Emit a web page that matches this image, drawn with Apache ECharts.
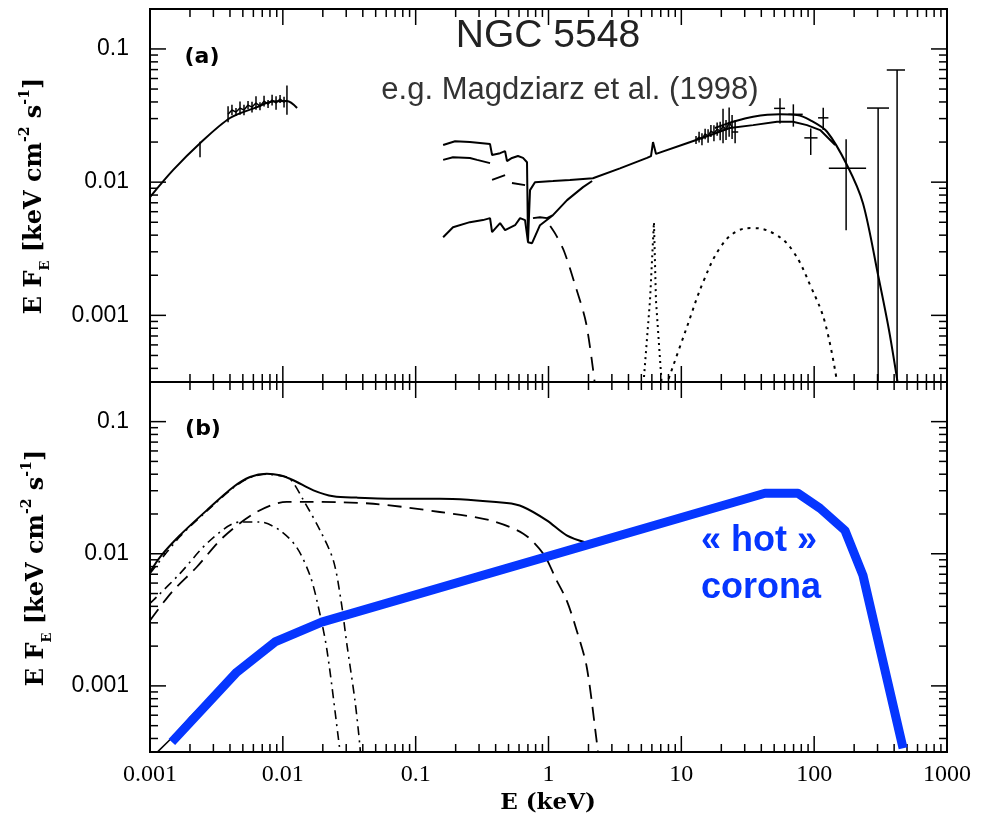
<!DOCTYPE html>
<html>
<head>
<meta charset="utf-8">
<script src="https://cdn.jsdelivr.net/npm/echarts@6.0.0/dist/echarts.min.js"></script>
<style>
  html, body { margin: 0; padding: 0; background: #fff; }
  #chart { width: 997px; height: 823px; }
</style>
</head>
<body>
<div id="chart"></div>
<script>
/* ── Axes ─────────────────────────────────────────────────────────── */
const X_MIN = 0.001, X_MAX = 1000;
const Y_MIN = 0.000316, Y_MAX = 0.1995;
const xTickVals = [0.001, 0.01, 0.1, 1, 10, 100, 1000];
const xTickLabels = ['0.001', '0.01', '0.1', '1', '10', '100', '1000'];
const yTickVals = [0.001, 0.01, 0.1];
const yTickLabels = ['0.001', '0.01', '0.1'];

/* ── Panel (a): optical/UV model + data ──────────────────────────── */
const uvModelE = [0.001, 0.00149, 0.00238, 0.0040, 0.0064, 0.0080, 0.01074, 0.0128];
const uvModelF = [0.00773, 0.0123, 0.0196, 0.0303, 0.0366, 0.0399, 0.0406, 0.036];

const uvDataE = [0.00387, 0.00414, 0.00444, 0.00476, 0.00510, 0.00547, 0.00586, 0.00628,
                 0.00673, 0.00722, 0.00774, 0.00830, 0.00889, 0.00953, 0.01021, 0.01074];
const uvDataF = [0.0324, 0.0348, 0.0336, 0.0360, 0.0348, 0.0379, 0.0366, 0.0393,
                 0.0372, 0.0406, 0.0386, 0.0413, 0.0393, 0.0421, 0.0399, 0.0413];
const uvDataErr = [0.06, 0.04, 0.03, 0.05, 0.04, 0.03, 0.04, 0.05,
                   0.03, 0.04, 0.03, 0.04, 0.05, 0.03, 0.04, 0.11];   // dex

// lone error bar near 2.4 eV
const uvBarE = [0.00238];
const uvBarLo = [0.0154];
const uvBarHi = [0.0201];

/* ── Panel (a): X-ray traces ─────────────────────────────────────── */
const upperE = [0.161, 0.198, 0.256, 0.363, 0.376, 0.432, 0.471, 0.487, 0.531, 0.589, 0.643, 0.689,
                0.701, 0.726, 0.791, 1.08, 1.45, 2.16, 3.45, 5.52, 5.91, 6.12, 6.45, 11.0,
                16.4, 23.2, 34.7, 52.5, 69.3, 88.3, 111, 144];
const upperF = [0.0190, 0.0203, 0.0200, 0.0193, 0.0160, 0.0165, 0.0171, 0.0144, 0.0152, 0.0157, 0.0152, 0.0141,
                0.00360, 0.00871, 0.0100, 0.0102, 0.0104, 0.0107, 0.0127, 0.0152, 0.0157, 0.0200, 0.0163, 0.0196,
                0.0225, 0.0255, 0.0268, 0.0284, 0.0284, 0.0268, 0.0246, 0.0190];

const midE = [0.161, 0.191, 0.256, 0.290, 0.363, null, 0.376, 0.471, null, 0.531, 0.666];
const midF = [0.0147, 0.0154, 0.0152, 0.0147, 0.0139, null, 0.0104, 0.0113, null, 0.00984, 0.00950];

const lowerE = [0.161, 0.191, 0.256, 0.321, 0.363, 0.376, 0.432, 0.471, 0.560, 0.611, 0.666, 0.701,
                0.752, 0.863, 1.08, 1.38, 1.82, 2.13, null, 0.764, 0.863, 0.975, 1.08];
const lowerF = [0.00386, 0.00459, 0.00501, 0.00519, 0.00537, 0.00422, 0.00492, 0.00436, 0.00475, 0.00537, 0.00519, 0.00354,
                0.00348, 0.00475, 0.00565, 0.00733, 0.00918, 0.0102, null, 0.00537, 0.00546, 0.00537, 0.00565];

const softE = [1.03, 1.14, 1.31, 1.58, 1.92, 2.24];
const softF = [0.00468, 0.00400, 0.00303, 0.00171, 0.000873, 0.000299];

const feLineE = [5.15, 5.81, 6.22, 6.44, 7.16];
const feLineF = [0.00028, 0.0013, 0.0050, 0.0013, 0.00028];

const reflE = [7.67, 10.8, 14.8, 19.9, 26.3, 34.7, 50.7, 69.3, 94.7, 121, 151];
const reflF = [0.000294, 0.000773, 0.00184, 0.00330, 0.00429, 0.00452, 0.00407, 0.00303, 0.00163, 0.000873, 0.000288];

const hardModelE = [17.9, 24.5, 34.7, 55.3, 74.3, 93.1, 125, 177, 233, 303, 366, 428];
const hardModelF = [0.0255, 0.0284, 0.0310, 0.0323, 0.0319, 0.0292, 0.0239, 0.0134, 0.00695, 0.00200, 0.000773, 0.000299];

const hxDataE = [12.9, 13.6, 14.3, 15.1, 15.9, 16.7, 17.6, 18.6, 19.6, 20.6, 21.7, 22.9, 24.1];
const hxDataF = [0.0207, 0.0218, 0.0210, 0.0230, 0.0222, 0.0242, 0.0233, 0.0250, 0.0242, 0.0264, 0.0246, 0.0282, 0.0259];
const hxDataErr = [0.03, 0.04, 0.045, 0.04, 0.05, 0.045, 0.06, 0.05, 0.07, 0.13, 0.075, 0.11, 0.09];   // dex

const crossE = [25.4, 55.3, 69.7, 94.2, 117, 174];
const crossELo = [24.0, 49.9, 63.9, 84.3, 107, 129];
const crossEHi = [26.8, 60.4, 82.0, 106, 128, 246];
const crossF = [0.0238, 0.0358, 0.0323, 0.0215, 0.0304, 0.0127];
const crossFLo = [0.0196, 0.0276, 0.0261, 0.0160, 0.0246, 0.00436];
const crossFHi = [0.0292, 0.0426, 0.0384, 0.0253, 0.0362, 0.0210];

const ulE = [303, 421];
const ulCapLo = [250, 352];
const ulCapHi = [366, 483];
const ulTop = [0.0360, 0.0695];

/* ── Panel (b): components ───────────────────────────────────────── */
const totalE = [0.001, 0.00119, 0.00168, 0.00267, 0.00424, 0.00566, 0.00756, 0.00953, 0.0120, 0.0170,
                0.0240, 0.0360, 0.0762, 0.152, 0.484, 0.646, 0.970, 1.37, 1.94];
const totalF = [0.00727, 0.00945, 0.0138, 0.0213, 0.0320, 0.0381, 0.0404, 0.0393, 0.0360, 0.0302,
                0.0272, 0.0266, 0.0261, 0.0261, 0.0242, 0.0226, 0.0179, 0.0138, 0.0121];

const warmE = [0.001, 0.00146, 0.00225, 0.00357, 0.00635, 0.0107, 0.0151, 0.0480, 0.152, 0.363,
               0.646, 0.914, 1.15, 1.37, 1.63, 1.94, 2.31, 2.40];
const warmF = [0.00313, 0.00513, 0.00794, 0.0134, 0.0207, 0.0247, 0.0247, 0.0239, 0.0207, 0.0179,
               0.0142, 0.0100, 0.00630, 0.00444, 0.00263, 0.00139, 0.000376, 0.000273];

const disk1E = [0.001, 0.00112, 0.00168, 0.00283, 0.00476, 0.00673, 0.00953, 0.0127, 0.0160, 0.0184, 0.0215, 0.0269, 0.0279];
const disk1F = [0.00421, 0.00470, 0.00708, 0.0126, 0.0174, 0.0174, 0.0150, 0.0112, 0.00687, 0.00407, 0.00186, 0.000325, 0.00025];

const disk2E = [0.001, 0.00168, 0.00267, 0.00424, 0.00566, 0.00756, 0.00953, 0.0113, 0.0143, 0.0191,
                0.0240, 0.0274, 0.0303, 0.0349, 0.0381, 0.0388];
const disk2F = [0.0071, 0.0135, 0.0210, 0.0316, 0.0377, 0.0400, 0.0390, 0.0371, 0.0254, 0.0150,
                0.00891, 0.00444, 0.00209, 0.000776, 0.000344, 0.00025];

const lowTailE = [0.00113, 0.00147, 0.00200, 0.00283, 0.00452, 0.00873];
const lowTailF = [0.000314, 0.000407, 0.000578, 0.000818, 0.00136, 0.00221];

const hotE = [0.00146, 0.0045, 0.00873, 0.0196, 42.6, 75.5, 110.6, 170.6, 233, 467];
const hotF = [0.000376, 0.00127, 0.00215, 0.00304, 0.0287, 0.0287, 0.0221, 0.0150, 0.00686, 0.000337];

/* ── Helpers ──────────────────────────────────────────────────────── */
const BLUE = '#0636ff';
const INK = '#000';

function zip(es, fs) {
    return es.map((e, i) => (e === null || fs[i] === null) ? ['-', '-'] : [e, fs[i]]);
}

function lineSeries(grid, es, fs, style, extra) {
    return Object.assign({
        type: 'line',
        xAxisIndex: grid, yAxisIndex: grid,
        data: zip(es, fs),
        symbol: 'none',
        connectNulls: false,
        animation: false,
        silent: true,
        lineStyle: Object.assign({ color: INK, width: 2 }, style)
    }, extra || {});
}

function seg(x1, y1, x2, y2, w) {
    return { type: 'line', shape: { x1, y1, x2, y2 }, style: { stroke: INK, lineWidth: w || 1.5 } };
}

// [E, F, Flo, Fhi, Elo, Ehi]
function renderBars(params, api) {
    const e = api.value(0);
    const lo = api.coord([e, api.value(2)]);
    const hi = api.coord([e, api.value(3)]);
    const kids = [seg(lo[0], lo[1], hi[0], hi[1])];
    const el = api.value(4), eh = api.value(5);
    if (el > 0 && eh > 0) {
        const l = api.coord([el, api.value(1)]);
        const r = api.coord([eh, api.value(1)]);
        kids.push(seg(l[0], l[1], r[0], r[1]));
    }
    return { type: 'group', children: kids };
}

// [E, top, capLo, capHi] : bar runs down past the axis
function renderLimits(params, api) {
    const e = api.value(0);
    const top = api.coord([e, api.value(1)]);
    const bot = api.coord([e, Y_MIN]);
    const l = api.coord([api.value(2), api.value(1)]);
    const r = api.coord([api.value(3), api.value(1)]);
    return { type: 'group', children: [seg(top[0], top[1], bot[0], bot[1] + 20), seg(l[0], l[1], r[0], r[1])] };
}

// inward ticks on all four sides of a panel
function tickData() {
    const d = [];
    for (let k = -3; k <= 3; k++) {
        const base = Math.pow(10, k);
        d.push([base, Y_MIN, 0, 16]);
        if (k < 3) for (let m = 2; m <= 9; m++) d.push([base * m, Y_MIN, 0, 8]);
    }
    for (let k = -4; k <= -1; k++) {
        const base = Math.pow(10, k);
        if (base >= Y_MIN) d.push([X_MIN, base, 1, 16]);
        for (let m = 2; m <= 9; m++) {
            const v = base * m;
            if (v > Y_MIN && v < Y_MAX) d.push([X_MIN, v, 1, 8]);
        }
    }
    return d;
}

function renderTick(params, api) {
    const kind = api.value(2), len = api.value(3);
    if (kind === 0) {
        const v = api.value(0);
        const a = api.coord([v, Y_MIN]), b = api.coord([v, Y_MAX]);
        return { type: 'group', children: [seg(a[0], a[1], a[0], a[1] - len), seg(b[0], b[1], b[0], b[1] + len)] };
    }
    const v = api.value(1);
    const a = api.coord([X_MIN, v]), b = api.coord([X_MAX, v]);
    return { type: 'group', children: [seg(a[0], a[1], a[0] + len, a[1]), seg(b[0], b[1], b[0] - len, b[1])] };
}

function customSeries(grid, data, render, clip) {
    return {
        type: 'custom', xAxisIndex: grid, yAxisIndex: grid,
        data, renderItem: render, clip: !!clip, animation: false, silent: true
    };
}

function labelFor(vals, labels) {
    return v => {
        const i = vals.findIndex(t => Math.abs(Math.log10(t) - Math.log10(v)) < 1e-6);
        return i >= 0 ? labels[i] : '';
    };
}

/* ── Build ────────────────────────────────────────────────────────── */
const uvBars = uvDataE.map((e, i) => [e, uvDataF[i], uvDataF[i] / Math.pow(10, uvDataErr[i]), uvDataF[i] * Math.pow(10, uvDataErr[i]), 0, 0])
    .concat(uvBarE.map((e, i) => [e, uvBarLo[i], uvBarLo[i], uvBarHi[i], 0, 0]));
const hxBars = hxDataE.map((e, i) => [e, hxDataF[i], hxDataF[i] / Math.pow(10, hxDataErr[i]), hxDataF[i] * Math.pow(10, hxDataErr[i]), 0, 0]);
const crosses = crossE.map((e, i) => [e, crossF[i], crossFLo[i], crossFHi[i], crossELo[i], crossEHi[i]]);
const limits = ulE.map((e, i) => [e, ulTop[i], ulCapLo[i], ulCapHi[i]]);

const xAxisBase = {
    type: 'log', logBase: 10, min: X_MIN, max: X_MAX,
    axisLine: { show: false }, axisTick: { show: false }, splitLine: { show: false }
};
const yAxisBase = {
    type: 'log', logBase: 10, min: Y_MIN, max: Y_MAX,
    axisLine: { show: false }, axisTick: { show: false }, splitLine: { show: false },
    axisLabel: {
        showMinLabel: false, showMaxLabel: false, margin: 21,
        fontFamily: 'Liberation Sans', fontSize: 23, color: INK,
        formatter: labelFor(yTickVals, yTickLabels)
    }
};

const yTitle = '{n|E F}{sub|E}{n| [keV cm}{sup|-2}{n| s}{sup|-1}{n|]}';
const yTitleRich = {
    n: { fontFamily: 'DejaVu Serif', fontWeight: 'bold', fontSize: 24, lineHeight: 34, verticalAlign: 'middle' },
    sub: { fontFamily: 'DejaVu Serif', fontWeight: 'bold', fontSize: 13, lineHeight: 34, verticalAlign: 'bottom' },
    sup: { fontFamily: 'DejaVu Serif', fontWeight: 'bold', fontSize: 14, lineHeight: 34, verticalAlign: 'top' }
};

const option = {
    backgroundColor: '#fff',
    animation: false,
    grid: [
        { left: 150, top: 9, width: 797, height: 373, show: true, borderColor: INK, borderWidth: 2, containLabel: false },
        { left: 150, top: 382, width: 797, height: 370, show: true, borderColor: INK, borderWidth: 2, containLabel: false }
    ],
    xAxis: [
        Object.assign({ gridIndex: 0, axisLabel: { show: false } }, xAxisBase),
        Object.assign({
            gridIndex: 1,
            axisLabel: {
                margin: 11, fontFamily: 'Liberation Serif', fontSize: 24, color: INK,
                formatter: labelFor(xTickVals, xTickLabels)
            }
        }, xAxisBase)
    ],
    yAxis: [
        Object.assign({ gridIndex: 0 }, yAxisBase),
        Object.assign({ gridIndex: 1 }, yAxisBase)
    ],
    graphic: [
        { type: 'text', x: 548, y: 36, style: { text: 'NGC 5548', fontFamily: 'Liberation Sans', fontSize: 39, fill: '#222', align: 'center', verticalAlign: 'middle' } },
        { type: 'text', x: 570, y: 90, style: { text: 'e.g. Magdziarz et al. (1998)', fontFamily: 'Liberation Sans', fontSize: 31, fill: '#333', align: 'center', verticalAlign: 'middle' } },
        { type: 'text', x: 202, y: 57, style: { text: '(a)', fontFamily: 'DejaVu Sans', fontWeight: 'bold', fontSize: 22, fill: INK, align: 'center', verticalAlign: 'middle' } },
        { type: 'text', x: 203, y: 429, style: { text: '(b)', fontFamily: 'DejaVu Sans', fontWeight: 'bold', fontSize: 22, fill: INK, align: 'center', verticalAlign: 'middle' } },
        { type: 'text', x: 759, y: 541, style: { text: '« hot »', fontFamily: 'Liberation Sans', fontWeight: 'bold', fontSize: 36, fill: BLUE, align: 'center', verticalAlign: 'middle' } },
        { type: 'text', x: 761, y: 588, style: { text: 'corona', fontFamily: 'Liberation Sans', fontWeight: 'bold', fontSize: 36, fill: BLUE, align: 'center', verticalAlign: 'middle' } },
        { type: 'text', x: 548, y: 803, style: { text: 'E (keV)', fontFamily: 'DejaVu Serif', fontWeight: 'bold', fontSize: 23, fill: INK, align: 'center', verticalAlign: 'middle' } },
        { type: 'text', x: 35, y: 196, rotation: Math.PI / 2, style: { text: yTitle, rich: yTitleRich, fill: INK, align: 'center', verticalAlign: 'middle' } },
        { type: 'text', x: 37, y: 568, rotation: Math.PI / 2, style: { text: yTitle, rich: yTitleRich, fill: INK, align: 'center', verticalAlign: 'middle' } }
    ],
    series: [
        // panel (a)
        lineSeries(0, uvModelE, uvModelF, {}, { smooth: 0.3 }),
        lineSeries(0, uvDataE, uvDataF, { width: 1.5 }),
        customSeries(0, uvBars, renderBars, true),
        lineSeries(0, upperE, upperF, { width: 2 }),
        lineSeries(0, midE, midF, { width: 2 }),
        lineSeries(0, lowerE, lowerF, { width: 2 }),
        lineSeries(0, softE, softF, { width: 1.8, type: [14, 9] }, { smooth: 0.3 }),
        lineSeries(0, feLineE, feLineF, { width: 2, type: [2, 4] }),
        lineSeries(0, reflE, reflF, { width: 2, type: [3, 5] }, { smooth: 0.4 }),
        lineSeries(0, hardModelE, hardModelF, { width: 2 }, { smooth: 0.3 }),
        lineSeries(0, hxDataE, hxDataF, { width: 1.5 }),
        customSeries(0, hxBars, renderBars, true),
        customSeries(0, crosses, renderBars, true),
        customSeries(0, limits, renderLimits, true),
        customSeries(0, tickData(), renderTick, false),
        // panel (b)
        lineSeries(1, totalE, totalF, { width: 2 }, { smooth: 0.3 }),
        lineSeries(1, warmE, warmF, { width: 1.8, type: [14, 8] }, { smooth: 0.3 }),
        lineSeries(1, disk1E, disk1F, { width: 1.6, type: [9, 5, 2, 5] }, { smooth: 0.3 }),
        lineSeries(1, disk2E, disk2F, { width: 1.6, type: [9, 5, 2, 5] }, { smooth: 0.3 }),
        lineSeries(1, lowTailE, lowTailF, { width: 1.5 }),
        lineSeries(1, hotE, hotF, { width: 9, color: BLUE, cap: 'butt', join: 'round' }),
        customSeries(1, tickData(), renderTick, false)
    ]
};

const chart = echarts.init(document.getElementById('chart'), null, { renderer: 'canvas' });
chart.setOption(option);
</script>
</body>
</html>
